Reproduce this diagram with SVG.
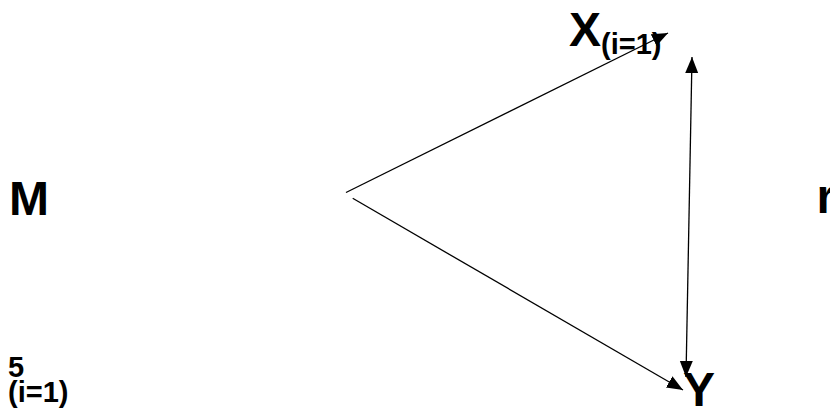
<svg xmlns="http://www.w3.org/2000/svg" width="830" height="417" viewBox="0 0 830 417">
<style>
text{font-family:"Liberation Sans",Arial,sans-serif;font-weight:bold;fill:#000}
.big{font-size:48px}
.sub{font-size:29px}
.edge{stroke:#000;stroke-width:1.3;fill:none}
</style>
<defs>
<marker id="arr" markerUnits="userSpaceOnUse" markerWidth="17" markerHeight="14" refX="16" refY="6.5" orient="auto-start-reverse">
<path d="M0,0 L16,6.5 L0,13 z" fill="#000"/>
</marker>
</defs>
<rect width="830" height="417" fill="#fff"/>
<g id="connectors">
<line class="edge" x1="346" y1="192.5" x2="668" y2="33" marker-end="url(#arr)"/>
<line class="edge" x1="352.7" y1="198.3" x2="683" y2="390" marker-end="url(#arr)"/>
<line class="edge" x1="686" y1="377" x2="692" y2="57" marker-start="url(#arr)" marker-end="url(#arr)"/>
</g>
<g id="node-X"><text class="big" x="569" y="46">X<tspan class="sub" font-size="30" dy="8">(i=1)</tspan></text></g>
<g id="node-Y"><text class="big" x="683" y="406" font-size="47">Y</text></g>
<g id="node-M"><text class="big" x="9" y="215">M</text></g>
<g id="node-r"><text class="big" x="816.5" y="213">r</text></g>
<g id="node-5"><text class="sub" x="8" y="377">5</text><text class="sub" x="8" y="402">(i=1)</text></g>
</svg>
